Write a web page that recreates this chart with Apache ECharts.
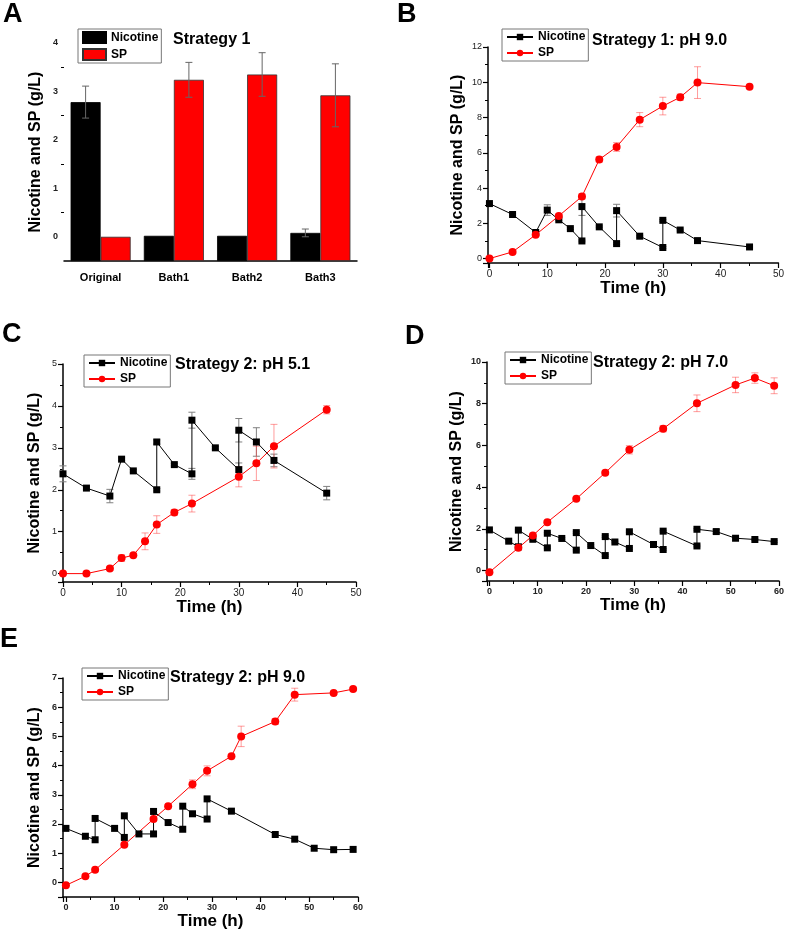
<!DOCTYPE html>
<html>
<head>
<meta charset="UTF-8">
<title>Nicotine and SP</title>
<script src="https://cdn.jsdelivr.net/npm/echarts@6/dist/echarts.min.js"></script>
<style>
  html, body { margin: 0; background: #fff; }
  #chart { width: 787px; height: 932px; }
</style>
</head>
<body>
<div id="chart"></div>
<script>
// ---- data ----
// A: Strategy 1, bars
var aCats = ['Original', 'Bath1', 'Bath2', 'Bath3'];
var aNic = [2.78, 0.02, 0.02, 0.08];
var aNicErr = [0.33, 0, 0, 0.08];
var aSP = [0, 3.24, 3.35, 2.92];
var aSPErr = [0, 0.36, 0.45, 0.65];

// B: Strategy 1, pH 9.0
var bNicT = [0, 4, 8, 10, 12, 14, 16, 16, 19, 22, 22, 26, 30, 30, 33, 36, 45];
var bNic = [3.12, 2.5, 1.48, 2.75, 2.2, 1.7, 1.0, 2.95, 1.8, 0.85, 2.72, 1.27, 0.63, 2.17, 1.62, 1.02, 0.66];
var bNicErr = [0.05, 0.05, 0.08, 0.3, 0.05, 0.05, 0.05, 0.5, 0.05, 0.05, 0.36, 0.05, 0.05, 0.05, 0.05, 0.05, 0.05];
var bSPT = [0, 4, 8, 12, 16, 19, 22, 26, 30, 33, 36, 45];
var bSP = [0, 0.38, 1.35, 2.42, 3.52, 5.62, 6.33, 7.88, 8.65, 9.15, 9.98, 9.75];
var bSPErr = [0, 0.05, 0.05, 0.1, 0.15, 0.15, 0.25, 0.4, 0.5, 0.18, 0.9, 0.05];

// C: Strategy 2, pH 5.1
var cNicT = [0, 4, 8, 10, 12, 16, 16, 19, 22, 22, 26, 30, 30, 33, 36, 45];
var cNic = [2.38, 2.04, 1.85, 2.73, 2.45, 2.0, 3.14, 2.6, 2.38, 3.66, 3.0, 2.48, 3.42, 3.14, 2.7, 1.92];
var cNicErr = [0.19, 0.03, 0.16, 0.03, 0.03, 0.03, 0.05, 0.03, 0.13, 0.19, 0.03, 0.16, 0.28, 0.34, 0.15, 0.16];
var cSPT = [0, 4, 8, 10, 12, 14, 16, 19, 22, 30, 33, 36, 45];
var cSP = [0, 0, 0.12, 0.37, 0.44, 0.77, 1.17, 1.46, 1.67, 2.31, 2.63, 3.04, 3.91];
var cSPErr = [0, 0, 0.04, 0.08, 0.03, 0.2, 0.21, 0.07, 0.2, 0.24, 0.41, 0.52, 0.1];

// D: Strategy 2, pH 7.0
var dNicT = [0, 4, 6, 6, 9, 12, 12, 15, 18, 18, 21, 24, 24, 26, 29, 29, 34, 36, 36, 43, 43, 47, 51, 55, 59];
var dNic = [1.95, 1.41, 1.14, 1.94, 1.5, 1.09, 1.79, 1.54, 0.98, 1.82, 1.2, 0.72, 1.63, 1.37, 1.06, 1.86, 1.25, 1.01, 1.89, 1.18, 1.98, 1.87, 1.55, 1.49, 1.39];
var dNicErr = [0.04, 0.04, 0.04, 0.04, 0.04, 0.04, 0.04, 0.04, 0.04, 0.04, 0.04, 0.04, 0.04, 0.04, 0.04, 0.04, 0.04, 0.04, 0.04, 0.04, 0.04, 0.1, 0.04, 0.04, 0.04];
var dSPT = [0, 6, 9, 12, 18, 24, 29, 36, 43, 51, 55, 59];
var dSP = [-0.08, 1.09, 1.68, 2.32, 3.44, 4.69, 5.79, 6.8, 8.02, 8.9, 9.23, 8.86];
var dSPErr = [0, 0.05, 0.05, 0.05, 0.05, 0.07, 0.2, 0.15, 0.4, 0.37, 0.25, 0.38];

// E: Strategy 2, pH 9.0
var eNicT = [0, 4, 6, 6, 10, 12, 12, 15, 18, 18, 21, 24, 24, 26, 29, 29, 34, 43, 47, 51, 55, 59];
var eNic = [1.85, 1.58, 1.46, 2.19, 1.85, 1.54, 2.28, 1.66, 1.66, 2.43, 2.05, 1.82, 2.61, 2.35, 2.17, 2.86, 2.44, 1.64, 1.48, 1.17, 1.12, 1.13];
var eSPT = [0, 4, 6, 12, 18, 21, 26, 29, 34, 36, 43, 47, 55, 59];
var eSP = [-0.1, 0.21, 0.43, 1.29, 2.17, 2.61, 3.36, 3.82, 4.32, 5.0, 5.51, 6.43, 6.49, 6.62];
var eSPErr = [0, 0, 0, 0, 0, 0, 0.15, 0.17, 0, 0.35, 0.1, 0.22, 0.05, 0];

var panelLetters = ['A', 'B', 'C', 'D', 'E'];
var panelTitles = ['Strategy 1', 'Strategy 1: pH 9.0', 'Strategy 2: pH 5.1', 'Strategy 2: pH 7.0', 'Strategy 2: pH 9.0'];
var yTitle = 'Nicotine and SP (g/L)';
var xTitle = 'Time (h)';

// ---- helpers ----
var FONT = 'Liberation Sans, Arial, sans-serif';

function pts(t, v) { return t.map(function (x, i) { return [x, v[i]]; }); }
function errPts(t, v, e) { return t.map(function (x, i) { return [x, v[i], e ? e[i] : 0]; }); }

function intLabel(v) { return Math.abs(v - Math.round(v)) < 1e-9 ? String(Math.round(v)) : ''; }

function axisBase(gi, labelSize, labelWeight) {
    return {
        gridIndex: gi,
        axisLine: { onZero: false, lineStyle: { color: '#000', width: 1.5 } },
        axisTick: { inside: false, length: 5, lineStyle: { color: '#000', width: 1.2 } },
        minorTick: { show: true, splitNumber: 2, length: 3, lineStyle: { color: '#000', width: 1 } },
        splitLine: { show: false },
        axisLabel: { color: '#222', fontSize: labelSize, fontWeight: labelWeight, fontFamily: FONT, margin: 6, formatter: intLabel }
    };
}

function valueAxis(gi, min, max, split, labelSize, labelWeight, extra) {
    var ax = axisBase(gi, labelSize, labelWeight);
    ax.type = 'value';
    ax.min = min; ax.max = max; ax.splitNumber = split;
    for (var k in extra) ax[k] = extra[k];
    return ax;
}

function yName(ax, gap) {
    ax.name = yTitle;
    ax.nameLocation = 'middle';
    ax.nameGap = gap;
    ax.nameTextStyle = { fontSize: 16, fontWeight: 'bold', color: '#000', fontFamily: FONT };
    return ax;
}
function xName(ax, gap) {
    ax.name = xTitle;
    ax.nameLocation = 'middle';
    ax.nameGap = gap;
    ax.nameTextStyle = { fontSize: 17, fontWeight: 'bold', color: '#000', fontFamily: FONT };
    return ax;
}

function lineSeries(gi, name, data, color, symbol, size) {
    return {
        type: 'line', name: name, xAxisIndex: gi, yAxisIndex: gi, data: data,
        symbol: symbol, symbolSize: size, showAllSymbol: true, z: 3,
        itemStyle: { color: color },
        lineStyle: { color: color, width: 1 }
    };
}

// error bars: vertical whisker with caps; shift moves it inside a category band (bars)
function errSeries(gi, data, color, shift, z) {
    return {
        type: 'custom', xAxisIndex: gi, yAxisIndex: gi, z: z, silent: true,
        data: data, encode: { x: 0, y: 1 },
        renderItem: function (params, api) {
            var e = api.value(2);
            if (!e) return null;
            var x = api.value(0), y = api.value(1);
            var hi = api.coord([x, y + e]), lo = api.coord([x, y - e]);
            var dx = 0;
            if (shift) dx = (api.coord([1, y])[0] - api.coord([0, y])[0]) * shift;
            var px = hi[0] + dx, w = 3.5;
            var st = { stroke: color, lineWidth: 1 };
            return { type: 'group', children: [
                { type: 'line', shape: { x1: px, y1: hi[1], x2: px, y2: lo[1] }, style: st },
                { type: 'line', shape: { x1: px - w, y1: hi[1], x2: px + w, y2: hi[1] }, style: st },
                { type: 'line', shape: { x1: px - w, y1: lo[1], x2: px + w, y2: lo[1] }, style: st }
            ] };
        }
    };
}

function legendAt(left, top, names, bar) {
    return {
        left: left, top: top, orient: 'vertical', selectedMode: false,
        data: names.map(function (n) { return bar ? { name: n, icon: 'rect' } : n; }),
        formatter: function (n) { return n.split('@')[0]; },
        itemWidth: bar ? 23 : 26, itemHeight: bar ? 11 : 8,
        itemGap: 4, itemTextGap: 2,
        padding: [2, 3, 2, 4],
        borderColor: '#777', borderWidth: 1,
        textStyle: { fontSize: 12, fontWeight: 'bold', color: '#000', fontFamily: FONT }
    };
}

// ---- layout ----
var grids = [
    { left: 64, top: 43, width: 293, height: 218 },
    { left: 488, top: 47, width: 293, height: 216 },
    { left: 63, top: 364, width: 293, height: 218 },
    { left: 487, top: 362, width: 294, height: 219 },
    { left: 63, top: 678, width: 295, height: 219 }
];
var letterPos = [[3, 1], [397, 1], [2, 321], [405, 323], [0, 626]];
var titlePos = [[173, 32], [592, 33], [175, 357], [593, 355], [170, 670]];

var titles = [];
panelLetters.forEach(function (t, i) {
    titles.push({ text: t, left: letterPos[i][0], top: letterPos[i][1], padding: 0,
        textStyle: { fontSize: 27, fontWeight: 'bold', color: '#000', fontFamily: FONT } });
});
panelTitles.forEach(function (t, i) {
    titles.push({ text: t, left: titlePos[i][0], top: titlePos[i][1], padding: 0,
        textStyle: { fontSize: 16, fontWeight: 'bold', color: '#000', fontFamily: FONT } });
});

// A x axis is categorical
var xA = axisBase(0, 11, 'bold');
xA.type = 'category';
xA.data = aCats;
xA.minorTick = { show: false };
xA.axisLabel = { color: '#000', fontSize: 11, fontWeight: 'bold', fontFamily: FONT, margin: 11 };

var xAxes = [
    xA,
    xName(valueAxis(1, -0.25, 50, 5, 10, 'normal'), 16),
    xName(valueAxis(2, 0, 50, 5, 10, 'normal'), 16),
    xName(valueAxis(3, -0.5, 60, 6, 9, 'bold'), 14),
    xName(valueAxis(4, -0.6, 60, 6, 9, 'bold'), 14)
];
var yAxes = [
    yName(valueAxis(0, -0.5, 4, 4, 9, 'bold', { startValue: -0.5 }), 20),
    yName(valueAxis(1, -0.25, 12, 6, 9, 'normal'), 22),
    yName(valueAxis(2, -0.2, 5, 5, 9, 'normal'), 20),
    yName(valueAxis(3, -0.5, 10, 5, 9, 'bold'), 22),
    yName(valueAxis(4, -0.5, 7, 7, 9, 'bold'), 20)
];

var NIC = '#000000', SPC = '#ff0000';
var NIC_ERR = '#808080', SP_ERR = 'rgba(255,60,60,0.5)';

var series = [
    { type: 'bar', name: 'Nicotine@A', xAxisIndex: 0, yAxisIndex: 0, data: aNic,
      barGap: '0%', barCategoryGap: '18%', z: 2,
      itemStyle: { color: NIC, borderColor: '#000', borderWidth: 0.8 } },
    { type: 'bar', name: 'SP@A', xAxisIndex: 0, yAxisIndex: 0, data: aSP,
      barGap: '0%', barCategoryGap: '18%', z: 2,
      itemStyle: { color: SPC, borderColor: '#333', borderWidth: 0.8 } },
    errSeries(0, errPts([0, 1, 2, 3], aNic, aNicErr), '#666', -0.205, 4),
    errSeries(0, errPts([0, 1, 2, 3], aSP, aSPErr), '#666', 0.205, 4)
];

var panels = [
    [1, bNicT, bNic, bNicErr, bSPT, bSP, bSPErr],
    [2, cNicT, cNic, cNicErr, cSPT, cSP, cSPErr],
    [3, dNicT, dNic, dNicErr, dSPT, dSP, dSPErr],
    [4, eNicT, eNic, null, eSPT, eSP, eSPErr]
];
panels.forEach(function (p) {
    var gi = p[0], tag = '@' + panelLetters[gi];
    series.push(errSeries(gi, errPts(p[1], p[2], p[3]), NIC_ERR, 0, 1));
    series.push(errSeries(gi, errPts(p[4], p[5], p[6]), SP_ERR, 0, 1));
    series.push(lineSeries(gi, 'Nicotine' + tag, pts(p[1], p[2]), NIC, 'rect', 7));
    series.push(lineSeries(gi, 'SP' + tag, pts(p[4], p[5]), SPC, 'circle', 8));
});

var legends = [
    legendAt(78, 29, ['Nicotine@A', 'SP@A'], true),
    legendAt(502, 29, ['Nicotine@B', 'SP@B'], false),
    legendAt(84, 355, ['Nicotine@C', 'SP@C'], false),
    legendAt(505, 352, ['Nicotine@D', 'SP@D'], false),
    legendAt(82, 668, ['Nicotine@E', 'SP@E'], false)
];

var chart = echarts.init(document.getElementById('chart'));
chart.setOption({
    animation: false,
    backgroundColor: '#fff',
    title: titles,
    legend: legends,
    grid: grids,
    xAxis: xAxes,
    yAxis: yAxes,
    series: series
});
</script>
</body>
</html>
